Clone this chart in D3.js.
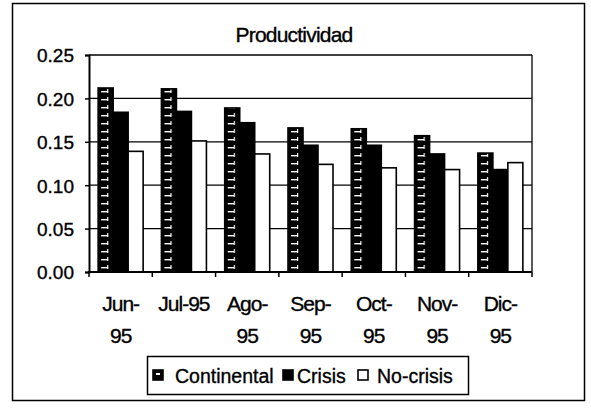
<!DOCTYPE html>
<html>
<head>
<meta charset="utf-8">
<script src="https://cdn.jsdelivr.net/npm/d3@7"></script>
<style>
  body { margin: 0; background: #fff; }
  svg text { font-family: "Liberation Sans", Arial, sans-serif; fill: #000; stroke: #000; stroke-width: 0.35px; }
</style>
</head>
<body>
<svg id="chart" width="591" height="408"></svg>
<script>
// data
const months = ["Jun-95", "Jul-95", "Ago-95", "Sep-95", "Oct-95", "Nov-95", "Dic-95"];
const monthLines = [["Jun-", "95"], ["Jul-95"], ["Ago-", "95"], ["Sep-", "95"], ["Oct-", "95"], ["Nov-", "95"], ["Dic-", "95"]];
const series = ["Continental", "Crisis", "No-crisis"];
const continental = [0.212, 0.211, 0.189, 0.166, 0.165, 0.157, 0.137];
const crisis = [0.184, 0.185, 0.172, 0.146, 0.146, 0.136, 0.118];
const noCrisis = [0.139, 0.151, 0.136, 0.124, 0.120, 0.118, 0.126];
const yTicks = [0, 0.05, 0.10, 0.15, 0.20, 0.25];

const values = { "Continental": continental, "Crisis": crisis, "No-crisis": noCrisis };

const svg = d3.select("#chart");

// brick-ish hatch used for Continental
const defs = svg.append("defs");
const pat = defs.append("pattern")
  .attr("id", "contPat")
  .attr("patternUnits", "userSpaceOnUse")
  .attr("width", 15).attr("height", 8);
pat.append("rect").attr("width", 15).attr("height", 8).attr("fill", "#000");
pat.append("rect").attr("x", 3).attr("y", 3).attr("width", 6).attr("height", 1.4).attr("fill", "#fff");
pat.append("rect").attr("x", 9).attr("y", 1).attr("width", 1.2).attr("height", 4).attr("fill", "#fff");

// outer frame
svg.append("rect")
  .attr("x", 12.5).attr("y", 3.5).attr("width", 572).attr("height", 397)
  .attr("fill", "none").attr("stroke", "#000").attr("stroke-width", 1.5);

const plotL = 89, plotR = 532, plotT = 55, plotB = 272;

const y = d3.scaleLinear().domain([0, 0.25]).range([plotB, plotT]);
const x0 = d3.scaleBand().domain(months).range([plotL, plotR]).paddingInner(0.289).paddingOuter(0.1445);
const x1 = d3.scaleBand().domain(series).range([0, x0.bandwidth()]);
const step = x0.step();

// gridlines
svg.append("g")
  .selectAll("line")
  .data(yTicks.filter(d => d > 0))
  .enter()
  .append("line")
  .attr("x1", plotL).attr("x2", plotR)
  .attr("y1", d => y(d)).attr("y2", d => y(d))
  .style("stroke", "#000").style("stroke-width", 1.3);

// plot right border
svg.append("line")
  .attr("x1", plotR).attr("x2", plotR).attr("y1", plotT).attr("y2", plotB)
  .style("stroke", "#000").style("stroke-width", 1.3);

// bars
const groups = svg.append("g")
  .selectAll("g")
  .data(months)
  .enter()
  .append("g")
  .attr("transform", d => `translate(${x0(d)},0)`);

series.forEach(s => {
  groups.append("g")
    .attr("transform", `translate(${x1(s)},0)`)
    .append("rect")
    .attr("x", 0)
    .attr("y", (d, i) => y(values[s][i]))
    .attr("width", x1.bandwidth())
    .attr("height", (d, i) => plotB - y(values[s][i]))
    .attr("fill", s === "Continental" ? "url(#contPat)" : (s === "Crisis" ? "#000" : "#fff"))
    .attr("stroke", "#000")
    .attr("stroke-width", 1.6);
});

// y axis
const yAxis = d3.axisLeft(y).tickValues(yTicks).tickSize(4).tickFormat(d3.format(".2f"));
const ya = svg.append("g").attr("transform", `translate(${plotL},0)`).call(yAxis);
ya.select(".domain").attr("stroke-width", 2);
ya.selectAll(".tick line").attr("stroke-width", 1.5);
ya.selectAll(".tick text")
  .attr("x", -15)
  .attr("dy", "0.36em")
  .style("font-size", "19px")
  .style("font-family", "Liberation Sans, Arial, sans-serif");

// x axis line with ticks at band boundaries
svg.append("line")
  .attr("x1", plotL - 1).attr("x2", plotR)
  .attr("y1", plotB).attr("y2", plotB)
  .style("stroke", "#000").style("stroke-width", 2);

svg.append("g")
  .selectAll("line")
  .data(d3.range(months.length + 1))
  .enter()
  .append("line")
  .attr("x1", i => plotL + i * step).attr("x2", i => plotL + i * step)
  .attr("y1", plotB).attr("y2", plotB + 5)
  .style("stroke", "#000").style("stroke-width", 1.5);

// x labels
svg.append("g")
  .selectAll("text")
  .data(months)
  .enter()
  .append("text")
  .attr("text-anchor", "middle")
  .style("font-size", "21px")
  .style("letter-spacing", "-1px")
  .attr("transform", d => `translate(${x0(d) + x0.bandwidth() / 2},311)`)
  .each(function (d, i) {
    d3.select(this).selectAll("tspan")
      .data(monthLines[i])
      .enter()
      .append("tspan")
      .attr("x", 0)
      .attr("y", (t, j) => j * 32)
      .text(t => t);
  });

// title
svg.append("text")
  .attr("x", 294).attr("y", 42)
  .attr("text-anchor", "middle")
  .style("font-size", "21px")
  .style("letter-spacing", "-0.8px")
  .text("Productividad");

// legend
const lg = svg.append("g");
lg.append("rect")
  .attr("x", 147.5).attr("y", 356.5).attr("width", 321).attr("height", 38)
  .attr("fill", "#fff").attr("stroke", "#000").attr("stroke-width", 1.5);

const legendItems = [
  { name: "Continental", sx: 153, tx: 175 },
  { name: "Crisis", sx: 283, tx: 297 },
  { name: "No-crisis", sx: 358, tx: 377 }
];
legendItems.forEach(it => {
  const fill = it.name === "No-crisis" ? "#fff" : "#000";
  lg.append("rect")
    .attr("x", it.sx).attr("y", 370).attr("width", 10).attr("height", 10)
    .attr("fill", fill).attr("stroke", "#000").attr("stroke-width", 1.6);
  if (it.name === "Continental") {
    lg.append("rect").attr("x", it.sx + 3).attr("y", 373).attr("width", 4).attr("height", 2).attr("fill", "#fff");
  }
  lg.append("text")
    .attr("x", it.tx).attr("y", 383)
    .style("font-size", "19.5px")
    .text(it.name);
});
</script>
</body>
</html>
